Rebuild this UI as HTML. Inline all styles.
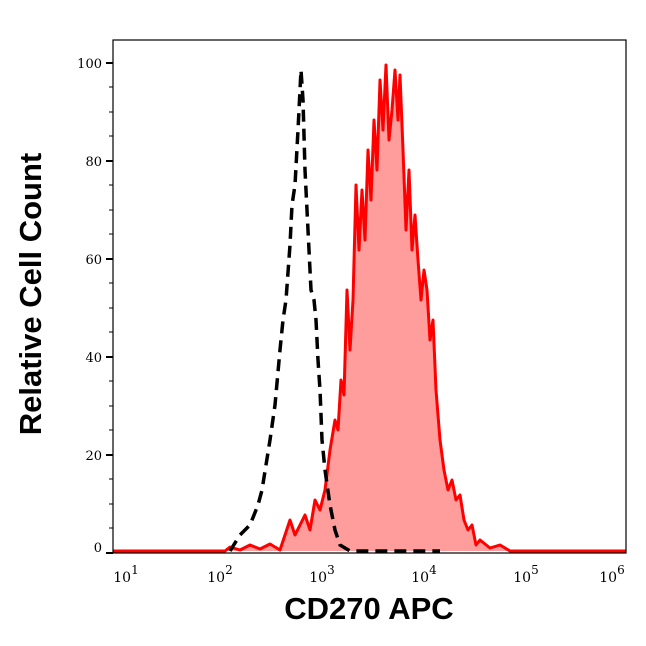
<!DOCTYPE html>
<html><head><style>body{margin:0;background:#fff}</style></head><body>
<svg width="646" height="641" xmlns="http://www.w3.org/2000/svg" style="font-family:'Liberation Sans',sans-serif">
<rect width="646" height="641" fill="#fff"/>
<polygon fill="#ff9d9d" points="113,551 225,551 230,547 240,550 250,545 260,549 270,544 280,550 290,520 295,535 300,525 305,515 310,530 315,500 320,510 325,490 330,450 335,420 338,430 341,380 344,395 347,290 350,350 353,300 356,185 359,250 362,190 365,240 368,150 371,200 374,120 377,170 380,80 383,130 386,65 389,140 392,110 395,70 398,120 400,75 403,150 406,230 409,170 412,250 415,215 418,260 421,300 424,270 427,290 430,340 433,320 436,390 440,440 444,470 448,490 452,480 456,500 460,495 464,520 468,530 472,525 476,545 480,540 490,548 500,545 510,551 626,551"/>
<polyline fill="none" stroke="#f00" stroke-width="3" stroke-linejoin="round" points="113,551 225,551 230,547 240,550 250,545 260,549 270,544 280,550 290,520 295,535 300,525 305,515 310,530 315,500 320,510 325,490 330,450 335,420 338,430 341,380 344,395 347,290 350,350 353,300 356,185 359,250 362,190 365,240 368,150 371,200 374,120 377,170 380,80 383,130 386,65 389,140 392,110 395,70 398,120 400,75 403,150 406,230 409,170 412,250 415,215 418,260 421,300 424,270 427,290 430,340 433,320 436,390 440,440 444,470 448,490 452,480 456,500 460,495 464,520 468,530 472,525 476,545 480,540 490,548 500,545 510,551 626,551"/>
<polyline fill="none" stroke="#000" stroke-width="3.5" stroke-dasharray="12,7" points="230,551 240,535 250,525 258,505 262,490 266,465 270,440 275,405 280,350 283,320 286,300 290,245 292,205 295,185 298,130 301,70 303,100 305,170 308,230 311,290 314,300 316,320 318,360 320,390 322,440 325,470 330,505 335,530 340,545 350,551 440,551"/>
<rect x="113" y="40" width="513" height="513" fill="none" stroke="#000" stroke-width="1.2"/>
<g stroke="#000" stroke-width="2">
<line x1="106" y1="553" x2="113" y2="553"/><line x1="106" y1="455" x2="113" y2="455"/><line x1="106" y1="357" x2="113" y2="357"/><line x1="106" y1="259" x2="113" y2="259"/><line x1="106" y1="161" x2="113" y2="161"/><line x1="106" y1="63" x2="113" y2="63"/>
</g>
<g stroke="#000" stroke-width="1">
<line x1="109" y1="504" x2="113" y2="504"/><line x1="109" y1="406" x2="113" y2="406"/><line x1="109" y1="308" x2="113" y2="308"/><line x1="109" y1="210" x2="113" y2="210"/><line x1="109" y1="112" x2="113" y2="112"/>
<line x1="109" y1="528" x2="113" y2="528"/><line x1="109" y1="479" x2="113" y2="479"/><line x1="109" y1="430" x2="113" y2="430"/><line x1="109" y1="381" x2="113" y2="381"/><line x1="109" y1="332" x2="113" y2="332"/><line x1="109" y1="283" x2="113" y2="283"/><line x1="109" y1="234" x2="113" y2="234"/><line x1="109" y1="185" x2="113" y2="185"/><line x1="109" y1="136" x2="113" y2="136"/><line x1="109" y1="87" x2="113" y2="87"/>
</g>
<g font-family="'DejaVu Serif',serif" font-size="13" text-anchor="end">
<text x="102" y="552">0</text><text x="102" y="460">20</text><text x="102" y="362">40</text><text x="102" y="264">60</text><text x="102" y="166">80</text><text x="102" y="68">100</text>
</g>
<g id="xt" stroke="#000"></g>
<g font-family="'DejaVu Serif',serif" font-size="14" text-anchor="middle">
<text x="126" y="582">10<tspan font-size="12" dy="-8">1</tspan></text>
<text x="220" y="582">10<tspan font-size="12" dy="-8">2</tspan></text>
<text x="322" y="582">10<tspan font-size="12" dy="-8">3</tspan></text>
<text x="424" y="582">10<tspan font-size="12" dy="-8">4</tspan></text>
<text x="526" y="582">10<tspan font-size="12" dy="-8">5</tspan></text>
<text x="612" y="582">10<tspan font-size="12" dy="-8">6</tspan></text>
</g>
<text x="369" y="619" font-size="31" font-weight="bold" text-anchor="middle">CD270 APC</text>
<text transform="translate(41,294) rotate(-90)" font-size="31" font-weight="bold" text-anchor="middle">Relative Cell Count</text>
<script>
var g=document.getElementById('xt'),s='';
for(var d=1;d<=6;d++){var x0=114+(d-1)*102.2;
s+='<line x1="'+x0+'" y1="553" x2="'+x0+'" y2="560" stroke-width="2"/>';
if(d<6)for(var k=2;k<10;k++){var x=x0+Math.log10(k)*102.2;s+='<line x1="'+x+'" y1="553" x2="'+x+'" y2="557" stroke-width="1"/>';}}
g.innerHTML=s;
</script>
</svg>
</body></html>
